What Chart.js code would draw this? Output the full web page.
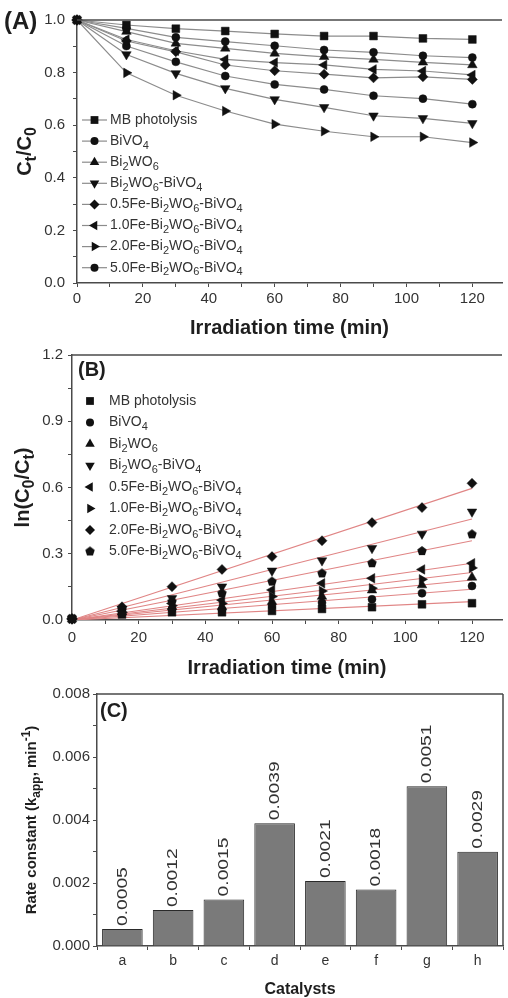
<!DOCTYPE html>
<html>
<head>
<meta charset="utf-8">
<script src="https://cdn.jsdelivr.net/npm/chart.js@4.4.1/dist/chart.umd.min.js"></script>
<style>
  html, body { margin: 0; padding: 0; background: #fff; }
  #wrap { position: relative; width: 508px; height: 998px; }
  canvas { position: absolute; left: 0; }
</style>
</head>
<body>
<div id="wrap">
  <canvas id="chartA" width="508" height="340" style="top:0"></canvas>
  <canvas id="chartB" width="508" height="340" style="top:340px"></canvas>
  <canvas id="chartC" width="508" height="318" style="top:680px"></canvas>
</div>
<script>
// ---- data ----
const timeMin = [0, 15, 30, 45, 60, 75, 90, 105, 120];
const seriesNames = [
  "MB photolysis", "BiVO_4", "Bi_2WO_6", "Bi_2WO_6-BiVO_4",
  "0.5Fe-Bi_2WO_6-BiVO_4", "1.0Fe-Bi_2WO_6-BiVO_4",
  "2.0Fe-Bi_2WO_6-BiVO_4", "5.0Fe-Bi_2WO_6-BiVO_4",
];

// (A) Ct/C0
const ctMB     = [1, 0.981, 0.967, 0.958, 0.947, 0.939, 0.939, 0.930, 0.926];
const ctBiVO4  = [1, 0.968, 0.934, 0.918, 0.902, 0.886, 0.877, 0.864, 0.857];
const ctBWO    = [1, 0.956, 0.911, 0.892, 0.873, 0.860, 0.850, 0.839, 0.829];
const ctBWOBVO = [1, 0.869, 0.797, 0.740, 0.698, 0.668, 0.636, 0.626, 0.607];
const ctFe05   = [1, 0.920, 0.879, 0.829, 0.807, 0.794, 0.780, 0.784, 0.774];
const ctFe10   = [1, 0.926, 0.883, 0.850, 0.838, 0.829, 0.812, 0.806, 0.791];
const ctFe20   = [1, 0.799, 0.714, 0.654, 0.604, 0.577, 0.556, 0.556, 0.534];
const ctFe50   = [1, 0.901, 0.841, 0.787, 0.755, 0.736, 0.712, 0.701, 0.680];

// (B) ln(C0/Ct)
const lnMB     = [0.005, 0.025, 0.035, 0.035, 0.041, 0.050, 0.058, 0.071, 0.076];
const lnBiVO4  = [0.005, 0.030, 0.050, 0.045, 0.063, 0.078, 0.094, 0.121, 0.154];
const lnBWO    = [0.005, 0.035, 0.060, 0.060, 0.083, 0.106, 0.135, 0.158, 0.193];
const lnBWOBVO = [0.005, 0.050, 0.098, 0.151, 0.223, 0.269, 0.325, 0.390, 0.490];
const lnFe05   = [0.005, 0.040, 0.075, 0.090, 0.136, 0.166, 0.189, 0.229, 0.257];
const lnFe10   = [0.005, 0.035, 0.065, 0.075, 0.106, 0.131, 0.144, 0.184, 0.236];
const lnFe20   = [0.005, 0.060, 0.151, 0.229, 0.287, 0.359, 0.441, 0.509, 0.619];
const lnFe50   = [0.005, 0.045, 0.083, 0.121, 0.174, 0.211, 0.257, 0.312, 0.388];
// linear fits: value at t = 0 and t = 120
const fitStart = [0, 0, 0, 0, 0, 0, 0, 0];
const fitEnd   = [0.083, 0.139, 0.181, 0.457, 0.257, 0.215, 0.596, 0.359];

// (C) rate constants
const catLabels = ["a", "b", "c", "d", "e", "f", "g", "h"];
const rateK     = [0.00054, 0.00114, 0.00148, 0.0039, 0.00206, 0.00179, 0.00507, 0.00299];
const rateText  = ["0.0005", "0.0012", "0.0015", "0.0039", "0.0021", "0.0018", "0.0051", "0.0029"];

// tick labels
const xTicks  = [0, 20, 40, 60, 80, 100, 120];
const xMinor  = [10, 30, 50, 70, 90, 110];
const yTicksA = [0, 0.2, 0.4, 0.6, 0.8, 1.0];
const yMinorA = [0.1, 0.3, 0.5, 0.7, 0.9];
const yTicksB = [0, 0.3, 0.6, 0.9, 1.2];
const yMinorB = [0.15, 0.45, 0.75, 1.05];
const yTicksC = [0, 0.002, 0.004, 0.006, 0.008];
const yMinorC = [0.001, 0.003, 0.005, 0.007];

// ---- styling ----
const FONT = '"Liberation Sans", Arial, sans-serif';
const INK = "#1e1e1e";
const AXIS = "#4a4a4a";
Chart.defaults.font.family = FONT;
Chart.defaults.color = INK;

function pentagon(r) {
  const c = document.createElement("canvas");
  c.width = c.height = 2 * r + 2;
  const g = c.getContext("2d");
  g.fillStyle = "#111";
  g.beginPath();
  for (let k = 0; k < 5; k++) {
    const a = -Math.PI / 2 + k * 2 * Math.PI / 5;
    g.lineTo(r + 1 + r * Math.cos(a), r + 1 + r * Math.sin(a));
  }
  g.closePath();
  g.fill();
  return c;
}
const PENT = pentagon(5);

const markA = [["rect", 0], ["circle", 0], ["triangle", 0], ["triangle", 180],
               ["rectRot", 0], ["triangle", 270], ["triangle", 90], ["circle", 0]];
const markB = [["rect", 0], ["circle", 0], ["triangle", 0], ["triangle", 180],
               ["triangle", 270], ["triangle", 90], ["rectRot", 0], [PENT, 0]];

function radiusFor(style) {
  if (style === "rect") return 5.5;
  if (style === "circle") return 4;
  if (style === "rectRot") return 5;
  return 5.5;
}

function mark(ctx, style, rot, x, y) {
  if (style instanceof HTMLCanvasElement) {
    ctx.drawImage(style, x - style.width / 2, y - style.height / 2);
    return;
  }
  const r = radiusFor(style);
  ctx.beginPath();
  if (style === "circle") ctx.arc(x, y, r, 0, 2 * Math.PI);
  else if (style === "rect") { const s = r * Math.SQRT1_2; ctx.rect(x - s, y - s, 2 * s, 2 * s); }
  else if (style === "rectRot") { ctx.moveTo(x, y - r); ctx.lineTo(x + r, y); ctx.lineTo(x, y + r); ctx.lineTo(x - r, y); ctx.closePath(); }
  else {
    let a = rot * Math.PI / 180;
    for (let k = 0; k < 3; k++) { ctx.lineTo(x + Math.sin(a) * r, y - Math.cos(a) * r); a += 2 * Math.PI / 3; }
    ctx.closePath();
  }
  ctx.fill();
}

// "_x" / "_{xy}" subscript, "^x" / "^{xy}" superscript
function parseRich(s) {
  const parts = [];
  let buf = "", i = 0;
  while (i < s.length) {
    const c = s[i];
    if (c === "_" || c === "^") {
      if (buf) { parts.push({ t: buf, m: 0 }); buf = ""; }
      let t;
      if (s[i + 1] === "{") { const j = s.indexOf("}", i); t = s.slice(i + 2, j); i = j + 1; }
      else { t = s[i + 1]; i += 2; }
      parts.push({ t, m: c === "_" ? 1 : -1 });
    } else { buf += c; i++; }
  }
  if (buf) parts.push({ t: buf, m: 0 });
  return parts;
}

function drawRich(ctx, str, x, y, size, weight, align) {
  const parts = parseRich(str);
  const fontOf = (p) => `${weight} ${p.m ? Math.round(size * 0.78) : size}px ${FONT}`;
  let w = 0;
  parts.forEach(p => { ctx.font = fontOf(p); p.w = ctx.measureText(p.t).width; w += p.w; });
  let cx = align === "center" ? x - w / 2 : x;
  ctx.textAlign = "left";
  ctx.textBaseline = "middle";
  parts.forEach(p => {
    ctx.font = fontOf(p);
    const dy = p.m === 1 ? size * 0.32 : p.m === -1 ? -size * 0.38 : 0;
    ctx.fillText(p.t, cx, y + dy);
    cx += p.w;
  });
}

// frame, panel tag, rich y title and legend
const decor = {
  id: "decor",
  afterDraw(chart, args, o) {
    const ctx = chart.ctx, a = chart.chartArea;
    ctx.save();
    ctx.strokeStyle = AXIS;
    ctx.lineWidth = 1.5;
    ctx.beginPath();
    ctx.moveTo(a.left, a.top); ctx.lineTo(a.right, a.top);
    if (o.right) { ctx.moveTo(a.right, a.top); ctx.lineTo(a.right, a.bottom); }
    ctx.stroke();

    ctx.fillStyle = INK;
    ctx.font = `bold ${o.tagSize}px ${FONT}`;
    ctx.textAlign = "left";
    ctx.textBaseline = "middle";
    ctx.fillText(o.tag, o.tagX, o.tagY);

    ctx.save();
    ctx.translate(o.ytX, (a.top + a.bottom) / 2);
    ctx.rotate(-Math.PI / 2);
    drawRich(ctx, o.yTitle, 0, 0, o.ytSize, "bold", "center");
    ctx.restore();

    if (o.legend) {
      const L = o.legend;
      for (let i = 0; i < seriesNames.length; i++) {
        const ds = chart.data.datasets[i];
        const y = L.y0 + i * L.dy;
        if (L.lineFrom) {
          ctx.strokeStyle = "#8c8c8c";
          ctx.lineWidth = 1.2;
          ctx.beginPath(); ctx.moveTo(L.lineFrom, y); ctx.lineTo(L.lineTo, y); ctx.stroke();
        }
        ctx.fillStyle = "#111";
        mark(ctx, ds.pointStyle, ds.pointRotation || 0, L.x, y);
        ctx.fillStyle = "#333";
        drawRich(ctx, seriesNames[i], L.textX, y, 14, "normal", "left");
      }
    }
    ctx.restore();
  }
};

function setTicks(major, minor) {
  return (s) => { s.ticks = major.concat(minor).sort((p, q) => p - q).map(v => ({ value: v })); };
}

function linAxis(major, minor, min, max, digits, pad, size) {
  return {
    type: "linear",
    min, max,
    afterBuildTicks: setTicks(major, minor),
    ticks: {
      autoSkip: false, maxRotation: 0, padding: pad,
      font: { size: 15 }, color: "#333",
      callback: (v) => major.includes(v) ? v.toFixed(digits) : "",
    },
    grid: { drawOnChartArea: false, tickLength: 4, color: AXIS, tickColor: AXIS },
    border: { color: AXIS, width: 1.5 },
    afterFit: size,
  };
}

const toPts = (arr) => timeMin.map((t, k) => ({ x: t, y: arr[k] }));

// ---- (A) ----
const ctSeries = [ctMB, ctBiVO4, ctBWO, ctBWOBVO, ctFe05, ctFe10, ctFe20, ctFe50];
new Chart(document.getElementById("chartA"), {
  type: "line",
  data: {
    datasets: ctSeries.map((arr, i) => ({
      label: seriesNames[i],
      data: toPts(arr),
      borderColor: "#8c8c8c",
      borderWidth: 1.2,
      pointStyle: markA[i][0],
      pointRotation: markA[i][1],
      pointRadius: radiusFor(markA[i][0]),
      pointBackgroundColor: "#111",
      pointBorderColor: "#111",
      pointBorderWidth: 0.5,
      clip: false,
    })),
  },
  options: {
    responsive: false, animation: false,
    layout: { padding: { top: 20, right: 0, bottom: 0, left: 0 } },
    plugins: {
      legend: { display: false }, tooltip: { enabled: false },
      decor: {
        tag: "(A)", tagSize: 24, tagX: 4, tagY: 22,
        yTitle: "C_t/C_0", ytX: 25, ytSize: 20,
        legend: { x: 94.5, y0: 120, dy: 21.1, lineFrom: 82, lineTo: 107, textX: 110 },
      },
    },
    scales: {
      x: Object.assign(linAxis(xTicks, xMinor, 0, 129, 0, 3, (s) => { s.height = 57; }), {
        title: { display: true, text: "Irradiation time (min)", font: { size: 20, weight: "bold" }, padding: { top: 0, bottom: 0 }, color: INK },
      }),
      y: linAxis(yTicksA, yMinorA, 0, 1.0, 1, 8, (s) => { s.width = 77; }),
    },
  },
  plugins: [decor],
});

// ---- (B) ----
const lnSeries = [lnMB, lnBiVO4, lnBWO, lnBWOBVO, lnFe05, lnFe10, lnFe20, lnFe50];
const markerSets = lnSeries.map((arr, i) => ({
  label: seriesNames[i],
  data: toPts(arr),
  showLine: false,
  pointStyle: markB[i][0],
  pointRotation: markB[i][1],
  pointRadius: radiusFor(markB[i][0]),
  pointBackgroundColor: "#111",
  pointBorderColor: "#111",
  pointBorderWidth: 0.5,
  order: 0,
  clip: false,
}));
const fitSets = fitEnd.map((v, i) => ({
  label: "fit " + i,
  data: [{ x: 0, y: fitStart[i] }, { x: 120, y: v }],
  borderColor: "#e08585",
  borderWidth: 1.1,
  pointRadius: 0,
  order: 1,
}));
new Chart(document.getElementById("chartB"), {
  type: "line",
  data: { datasets: markerSets.concat(fitSets) },
  options: {
    responsive: false, animation: false,
    layout: { padding: { top: 15, right: 0, bottom: 0, left: 0 } },
    plugins: {
      legend: { display: false }, tooltip: { enabled: false },
      decor: {
        tag: "(B)", tagSize: 20, tagX: 78, tagY: 30,
        yTitle: "ln(C_0/C_t)", ytX: 23, ytSize: 20,
        legend: { x: 90, y0: 61, dy: 21.5, lineFrom: null, textX: 109 },
      },
    },
    scales: {
      x: Object.assign(linAxis(xTicks, xMinor, 0, 129, 0, 5, (s) => { s.height = 60; }), {
        title: { display: true, text: "Irradiation time (min)", font: { size: 20, weight: "bold" }, padding: { top: 0, bottom: 0 }, color: INK },
      }),
      y: linAxis(yTicksB, yMinorB, 0, 1.2, 1, 5, (s) => { s.width = 72; }),
    },
  },
  plugins: [decor],
});

// ---- (C) ----
const barText = {
  id: "barText",
  afterDatasetsDraw(chart) {
    const ctx = chart.ctx;
    const meta = chart.getDatasetMeta(0);
    ctx.save();
    ctx.fillStyle = "#333";
    ctx.font = `15px ${FONT}`;
    ctx.textAlign = "left";
    ctx.textBaseline = "middle";
    meta.data.forEach((bar, i) => {
      ctx.save();
      ctx.translate(bar.x, bar.y - 3);
      ctx.rotate(-Math.PI / 2);
      ctx.scale(1.28, 1);
      ctx.fillText(rateText[i], 0, 0);
      ctx.restore();
    });
    ctx.restore();
  },
};

new Chart(document.getElementById("chartC"), {
  type: "bar",
  data: {
    labels: catLabels,
    datasets: [{
      data: rateK,
      backgroundColor: "#7a7a7a",
      borderColor: "#2a2a2a",
      borderWidth: 1,
      barPercentage: 0.8,
      categoryPercentage: 1,
    }],
  },
  options: {
    responsive: false, animation: false,
    layout: { padding: { top: 14, right: 5, bottom: 0, left: 0 } },
    plugins: {
      legend: { display: false }, tooltip: { enabled: false },
      decor: {
        tag: "(C)", tagSize: 20, tagX: 100, tagY: 31, right: true,
        yTitle: "Rate constant (k_{app}, min^{-1})", ytX: 32, ytSize: 15,
      },
    },
    scales: {
      x: {
        ticks: { font: { size: 14 }, color: "#333", padding: 3 },
        grid: { drawOnChartArea: false, tickLength: 4, color: AXIS, tickColor: AXIS, offset: true },
        border: { color: AXIS, width: 1.5 },
        title: { display: true, text: "Catalysts", font: { size: 16, weight: "bold", lineHeight: 1 }, padding: { top: 0, bottom: 0 }, color: INK },
        afterFit: (s) => { s.height = 52; },
      },
      y: linAxis(yTicksC, yMinorC, 0, 0.008, 3, 3, (s) => { s.width = 97; }),
    },
  },
  plugins: [decor, barText],
});
</script>
</body>
</html>
